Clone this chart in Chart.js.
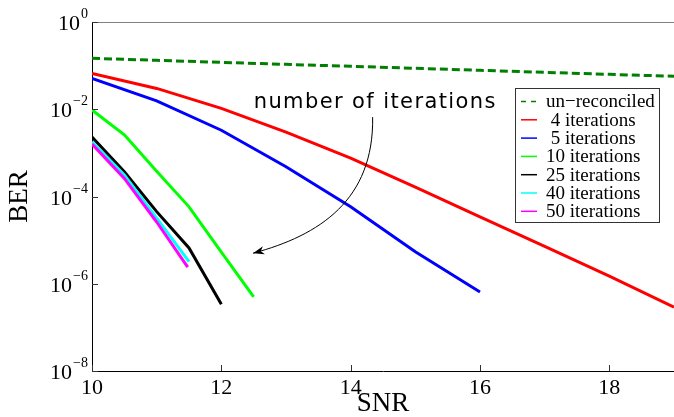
<!DOCTYPE html>
<html>
<head>
<meta charset="utf-8">
<script src="https://cdn.jsdelivr.net/npm/chart.js@4.4.1/dist/chart.umd.min.js"></script>
<style>
  html, body { margin: 0; padding: 0; background: #fff; }
  #wrap { width: 674px; height: 417px; }
</style>
</head>
<body>
<div id="wrap"><canvas id="grafico"></canvas></div>
<script>
'use strict';

// Datos (SNR / BER)
const snrUnrec = [10, 11, 12, 13, 14, 15, 16, 17, 18, 19];
const berUnrec = [0.147, 0.132, 0.119, 0.107, 0.0964, 0.0867, 0.078, 0.0702, 0.0632, 0.0569];

const snrIt4 = [10, 11, 12, 13, 14, 15, 16, 17, 18, 19];
const berIt4 = [0.066, 0.030, 0.0105, 0.0030, 7.6e-4, 1.65e-4, 3.4e-5, 7.2e-6, 1.5e-6, 2.9e-7];

const snrIt5 = [10, 11, 12, 13, 14, 15, 16];
const berIt5 = [0.051, 0.0155, 0.0033, 4.8e-4, 5.8e-5, 5.4e-6, 6.5e-7];

const snrIt10 = [10, 10.5, 11, 11.5, 12, 12.5];
const berIt10 = [0.0096, 2.6e-3, 3.8e-4, 5.8e-5, 5.3e-6, 5.0e-7];

const snrIt25 = [10, 10.5, 11, 11.5, 12];
const berIt25 = [2.3e-3, 3.7e-4, 4.5e-5, 6.6e-6, 3.4e-7];

const snrIt40 = [10, 10.5, 11, 11.5];
const berIt40 = [1.8e-3, 3.1e-4, 3.2e-5, 3.2e-6];

const snrIt50 = [10, 10.5, 11, 11.48];
const berIt50 = [1.6e-3, 2.6e-4, 2.6e-5, 2.4e-6];

const etiquetas = ['un\u2212reconciled', ' 4 iterations', ' 5 iterations', '10 iterations', '25 iterations', '40 iterations', '50 iterations'];
const colores = ['#007f00', '#ff0000', '#0000ff', '#00ff00', '#000000', '#00ffff', '#ff00ff'];

// Ejes
const xTicks = [10, 12, 14, 16, 18];
const yTicks = [1, 1e-2, 1e-4, 1e-6, 1e-8];
const yTickExp = ['0', '\u22122', '\u22124', '\u22126', '\u22128'];

// Anotacion (en unidades de datos)
const textoAnot = 'number of iterations';
const anotTexto = { x: 12.5, y: Math.pow(10, -1.97) };
const anotFlecha = [
    { x: 14.34, y: Math.pow(10, -2.18) },
    { x: 14.36, y: Math.pow(10, -4.08) },
    { x: 13.52, y: Math.pow(10, -4.89) },
    { x: 12.49, y: Math.pow(10, -5.30) }
];

let series = [
    [snrUnrec, berUnrec], [snrIt4, berIt4], [snrIt5, berIt5], [snrIt10, berIt10],
    [snrIt25, berIt25], [snrIt40, berIt40], [snrIt50, berIt50]
];

let armarDatos = (xs, ys) => {
    let puntos = [];
    for (let i = 0; i < xs.length; i++) {
        puntos.push({ x: xs[i], y: ys[i] });
    }
    return puntos;
}

let datasets = [];
for (let i = 0; i < series.length; i++) {
    datasets.push({
        label: etiquetas[i],
        data: armarDatos(series[i][0], series[i][1]),
        borderColor: colores[i],
        backgroundColor: colores[i],
        borderWidth: 3,
        borderDash: i == 0 ? [8, 4] : [],
        pointRadius: 0,
        tension: 0,
        fill: false,
        order: series.length - 1 - i
    });
}

// Plugin: marcas hacia adentro, etiquetas 10^n, borde superior, leyenda y anotacion
const extras = {
    id: 'extras',
    afterDraw: (chart) => {
        const ctx = chart.ctx;
        const area = chart.chartArea;
        const sx = chart.scales.x;
        const sy = chart.scales.y;
        ctx.save();

        // borde superior gris
        ctx.strokeStyle = '#808080';
        ctx.lineWidth = 1;
        ctx.beginPath();
        ctx.moveTo(area.left, area.top + 0.5);
        ctx.lineTo(area.right, area.top + 0.5);
        ctx.stroke();

        // ticks hacia adentro
        ctx.strokeStyle = '#333';
        ctx.beginPath();
        for (let i = 0; i < xTicks.length; i++) {
            let px = Math.round(sx.getPixelForValue(xTicks[i])) + 0.5;
            ctx.moveTo(px, area.bottom);
            ctx.lineTo(px, area.bottom - 6);
        }
        for (let i = 0; i < yTicks.length; i++) {
            let py = Math.round(sy.getPixelForValue(yTicks[i])) + 0.5;
            ctx.moveTo(area.left, py);
            ctx.lineTo(area.left + 6, py);
        }
        ctx.stroke();

        // etiquetas del eje y con exponente
        ctx.fillStyle = '#000';
        ctx.textBaseline = 'alphabetic';
        for (let i = 0; i < yTicks.length; i++) {
            let py = sy.getPixelForValue(yTicks[i]);
            let derecha = area.left - 4;
            ctx.font = '14px "Liberation Serif"';
            ctx.textAlign = 'right';
            let anchoExp = ctx.measureText(yTickExp[i]).width;
            ctx.fillText(yTickExp[i], derecha, py - 4);
            ctx.font = '22px "Liberation Serif"';
            ctx.fillText('10', derecha - anchoExp - 1, py + 8);
        }

        // leyenda
        let lx = area.right - 159;
        let ly = area.top + 66;
        let lw = 144;
        let lh = 134;
        ctx.fillStyle = '#fff';
        ctx.fillRect(lx, ly, lw, lh);
        ctx.strokeStyle = '#333';
        ctx.lineWidth = 1;
        ctx.strokeRect(lx + 0.5, ly + 0.5, lw, lh);
        ctx.font = '19px "Liberation Serif"';
        ctx.textAlign = 'left';
        ctx.textBaseline = 'middle';
        for (let i = 0; i < datasets.length; i++) {
            let fy = ly + 13.5 + i * 18.3;
            ctx.strokeStyle = datasets[i].borderColor;
            ctx.lineWidth = 1.5;
            ctx.setLineDash(i == 0 ? [5, 5] : []);
            ctx.beginPath();
            ctx.moveTo(lx + 6, fy);
            ctx.lineTo(lx + 22, fy);
            ctx.stroke();
            ctx.setLineDash([]);
            ctx.fillStyle = '#000';
            ctx.fillText(datasets[i].label, lx + 31, fy + 1);
        }

        // anotacion
        ctx.font = '21px "DejaVu Sans"';
        ctx.letterSpacing = '1.4px';
        ctx.textAlign = 'left';
        ctx.textBaseline = 'alphabetic';
        ctx.fillText(textoAnot, sx.getPixelForValue(anotTexto.x), sy.getPixelForValue(anotTexto.y));
        ctx.letterSpacing = '0px';

        let p = anotFlecha.map(a => ({ x: sx.getPixelForValue(a.x), y: sy.getPixelForValue(a.y) }));
        ctx.strokeStyle = '#000';
        ctx.lineWidth = 1;
        ctx.beginPath();
        ctx.moveTo(p[0].x, p[0].y);
        ctx.bezierCurveTo(p[1].x, p[1].y, p[2].x, p[2].y, p[3].x, p[3].y);
        ctx.stroke();
        let ang = Math.atan2(p[3].y - p[2].y, p[3].x - p[2].x);
        ctx.fillStyle = '#000';
        ctx.beginPath();
        ctx.moveTo(p[3].x, p[3].y);
        ctx.lineTo(p[3].x - 12 * Math.cos(ang - 0.35), p[3].y - 12 * Math.sin(ang - 0.35));
        ctx.lineTo(p[3].x - 8 * Math.cos(ang), p[3].y - 8 * Math.sin(ang));
        ctx.lineTo(p[3].x - 12 * Math.cos(ang + 0.35), p[3].y - 12 * Math.sin(ang + 0.35));
        ctx.closePath();
        ctx.fill();

        ctx.restore();
    }
};

Chart.defaults.font.family = '"Liberation Serif"';
Chart.defaults.color = '#000';

new Chart(document.getElementById('grafico'), {
    type: 'line',
    data: { datasets: datasets },
    options: {
        responsive: true,
        maintainAspectRatio: false,
        animation: false,
        events: [],
        layout: { padding: { top: 22, right: 0, bottom: 0, left: 0 } },
        plugins: {
            legend: { display: false },
            tooltip: { enabled: false }
        },
        scales: {
            x: {
                type: 'linear',
                min: 10,
                max: 19,
                afterBuildTicks: (scale) => { scale.ticks = xTicks.map(v => ({ value: v })); },
                afterFit: (scale) => { scale.height = 46; },
                grid: { display: false, drawTicks: false },
                border: { display: true, color: '#000', width: 1 },
                ticks: { font: { size: 22 }, padding: 4, maxRotation: 0, autoSkip: false },
                title: { display: true, text: 'SNR', font: { size: 27, lineHeight: 1 }, padding: { top: 0, bottom: 0 } }
            },
            y: {
                type: 'logarithmic',
                min: 1e-8,
                max: 1,
                afterBuildTicks: (scale) => { scale.ticks = yTicks.map(v => ({ value: v })); },
                afterFit: (scale) => { scale.width = 92; },
                grid: { display: false, drawTicks: false },
                border: { display: true, color: '#000', width: 1 },
                ticks: { display: false },
                title: { display: true, text: 'BER', font: { size: 27, lineHeight: 1 }, padding: { top: 6, bottom: 0 } }
            }
        }
    },
    plugins: [extras]
});
</script>
</body>
</html>
